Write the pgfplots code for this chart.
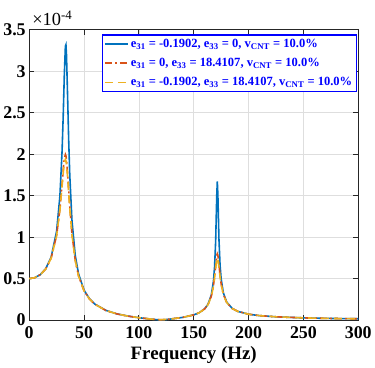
\documentclass[border=0pt]{standalone}
\usepackage{fontspec}
\setmainfont{Liberation Serif}
\usepackage{pgfplots}
\pgfplotsset{compat=1.18}
\definecolor{mblue}{rgb}{0,0.447,0.741}
\definecolor{morange}{rgb}{0.85,0.325,0.098}
\definecolor{myellow}{rgb}{0.929,0.694,0.125}
\begin{document}
\begin{tikzpicture}
\begin{axis}[
  width=331pt, height=292pt, scale only axis,
  xmin=0, xmax=300, ymin=0, ymax=3.5,
  xtick={0,50,100,150,200,250,300},
  ytick={0,0.5,1,1.5,2,2.5,3,3.5},
  yticklabels={0,0.5,1,1.5,2,2.5,3,3.5},
  /pgf/number format/assume math mode=true,
  grid=major, major grid style={black!13, line width=0.7pt},
  axis line style={black!85, line width=1.1pt},
  tick style={black!85, line width=1pt}, major tick length=5pt,
  tick align=inside,
  tick label style={font=\fontsize{18}{18}\selectfont\bfseries},
  xticklabel style={yshift=-3pt},
  xlabel={Frequency (Hz)},
  xlabel style={font=\fontsize{19}{19}\selectfont\bfseries, yshift=-1pt},
  legend style={at={(rel axis cs:0.22,0.984)}, anchor=north west, draw=blue,
    line width=1.2pt, fill=white, text=blue,
    font=\fontsize{12.6}{13}\selectfont\bfseries, inner sep=2pt, row sep=5.5pt,
    cells={anchor=west}},
  legend image code/.code={\draw[#1, line width=1.8pt] (0pt,0pt) -- (23pt,0pt);},
]
\addplot[mblue, line width=1.6pt] coordinates {
(0,0.5) (5,0.511) (10,0.547) (15,0.618) (20,0.759) (25,1.072) (28,1.496) (30,2.044)
(31,2.458) (32,2.946) (33,3.303) (33.5,3.320) (34,3.200) (35,2.705) (36,2.171) (37,1.747)
(39,1.200) (42,0.778) (45,0.558) (50,0.362) (55,0.257) (60,0.192) (70,0.117) (80,0.075)
(90,0.049) (100,0.029) (110,0.014) (115,0.007) (120,0.002) (125,0.007) (130,0.015)
(140,0.033) (150,0.063) (155,0.089) (160,0.137) (163,0.191) (166,0.302) (168,0.471)
(169,0.641) (170,0.955) (171,1.509) (171.5,1.672) (172,1.517) (173,0.975) (174,0.665)
(175,0.497) (177,0.329) (180,0.219) (185,0.142) (190,0.106) (200,0.071) (210,0.054)
(225,0.040) (250,0.027) (275,0.020) (300,0.016)};
\addlegendentry{e\textsubscript{31} = -0.1902, e\textsubscript{33} = 0, v\textsubscript{CNT} = 10.0\%}
\addplot[morange, line width=1.6pt, dash pattern=on 7pt off 3pt on 2pt off 3pt] coordinates {
(0,0.5) (5,0.511) (10,0.547) (15,0.615) (20,0.747) (25,1.021) (28,1.338) (30,1.647)
(31,1.812) (32,1.946) (33,1.997) (33.5,1.980) (34,1.934) (35,1.774) (36,1.572) (37,1.371)
(39,1.040) (42,0.721) (45,0.532) (50,0.353) (55,0.253) (60,0.190) (70,0.116) (80,0.075)
(90,0.048) (100,0.029) (110,0.014) (115,0.008) (120,0.004) (125,0.008) (130,0.015)
(140,0.033) (150,0.063) (155,0.089) (160,0.136) (163,0.187) (166,0.286) (168,0.418)
(169,0.522) (170,0.658) (171,0.780) (171.5,0.801) (172,0.784) (173,0.669) (174,0.540)
(175,0.438) (177,0.311) (180,0.214) (185,0.141) (190,0.106) (200,0.071) (210,0.054)
(225,0.040) (250,0.027) (275,0.020) (300,0.016)};
\addlegendentry{e\textsubscript{31} = 0, e\textsubscript{33} = 18.4107, v\textsubscript{CNT} = 10.0\%}
\addplot[myellow, line width=1.6pt, dash pattern=on 8pt off 5pt] coordinates {
(0,0.5) (5,0.511) (10,0.547) (15,0.614) (20,0.746) (25,1.017) (28,1.325) (30,1.619)
(31,1.773) (32,1.895) (33,1.938) (33.5,1.920) (34,1.877) (35,1.727) (36,1.537) (37,1.346)
(39,1.027) (42,0.716) (45,0.530) (50,0.352) (55,0.253) (60,0.190) (70,0.116) (80,0.075)
(90,0.048) (100,0.029) (110,0.014) (115,0.008) (120,0.005) (125,0.009) (130,0.015)
(140,0.033) (150,0.063) (155,0.089) (160,0.135) (163,0.186) (166,0.283) (168,0.410)
(169,0.507) (170,0.628) (171,0.733) (171.5,0.750) (172,0.736) (173,0.639) (174,0.524)
(175,0.430) (177,0.307) (180,0.213) (185,0.140) (190,0.106) (200,0.071) (210,0.054)
(225,0.040) (250,0.027) (275,0.020) (300,0.016)};
\addlegendentry{e\textsubscript{31} = -0.1902, e\textsubscript{33} = 18.4107, v\textsubscript{CNT} = 10.0\%}
\end{axis}
\node[anchor=south west, inner xsep=0pt, inner ysep=0pt, font=\fontsize{18.5}{18.5}\selectfont]
  at (current axis.north west) [xshift=3pt, yshift=4pt] {×10\textsuperscript{-4}};
\path (current axis.north west) ++(0pt,30pt) coordinate (topbb);
\useasboundingbox (topbb);
\end{tikzpicture}
\end{document}
